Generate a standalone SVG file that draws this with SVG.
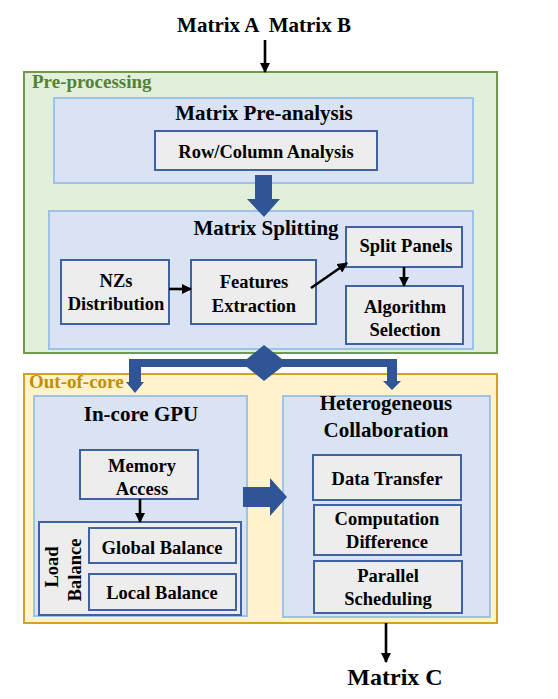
<svg xmlns="http://www.w3.org/2000/svg" width="558" height="699" viewBox="0 0 558 699">
<defs>
<style>
text{font-family:"Liberation Serif","Times New Roman",serif;font-weight:bold;fill:#000;text-anchor:middle}
.green{fill:#e2efda;stroke:#6f9b4c;stroke-width:2}
.yellow{fill:#fff2cc;stroke:#d4a31e;stroke-width:2}
.blue{fill:#dae3f3;stroke:#9dc3e6;stroke-width:2}
.grey{fill:#ededed;stroke:#3f63a2;stroke-width:2}
.t18{font-size:18.5px}
.t21{font-size:21px}
.lab{font-size:19px;text-anchor:start}
.conn{stroke:#000;stroke-width:2.6;fill:none}
.big{fill:#2f5597;stroke:none}
</style>
<marker id="ah" viewBox="0 0 10 10" refX="9" refY="5" markerWidth="4" markerHeight="4" markerUnits="strokeWidth" orient="auto">
<path d="M0,0 L10,5 L0,10 z" fill="#000"/>
</marker>
</defs>
<rect width="558" height="699" fill="#fff"/>

<text id="input" x="264" y="32" style="font-size:21px;white-space:pre" xml:space="preserve">Matrix A  Matrix B</text>

<g id="pre-processing">
<rect class="green" x="24" y="72" width="473" height="281"/>
<text class="lab" x="32" y="88" style="fill:#548235">Pre-processing</text>
</g>
<g id="matrix-pre-analysis">
<rect class="blue" x="54" y="98" width="419" height="85"/>
<text class="t21" x="264" y="120">Matrix Pre-analysis</text>
</g>
<g id="row-column-analysis">
<rect class="grey" x="155" y="131" width="222" height="39"/>
<text class="t18" x="266" y="158">Row/Column Analysis</text>
</g>
<g id="matrix-splitting">
<rect class="blue" x="49" y="211" width="424" height="138"/>
<text class="t21" x="266" y="235">Matrix Splitting</text>
</g>
<g id="nzs-distribution">
<rect class="grey" x="61" y="260" width="108" height="64"/>
<text class="t18" x="116" y="287">NZs</text>
<text class="t18" x="116" y="310">Distribution</text>
</g>
<g id="features-extraction">
<rect class="grey" x="191" y="260" width="125" height="64"/>
<text class="t18" x="254" y="288">Features</text>
<text class="t18" x="254" y="312">Extraction</text>
</g>
<g id="split-panels">
<rect class="grey" x="346" y="227" width="116" height="40"/>
<text class="t18" x="406" y="252">Split Panels</text>
</g>
<g id="algorithm-selection">
<rect class="grey" x="346" y="286" width="117" height="58"/>
<text class="t18" x="405" y="313">Algorithm</text>
<text class="t18" x="405" y="336">Selection</text>
</g>

<g id="out-of-core">
<rect class="yellow" x="24" y="374" width="473" height="249"/>
<text class="lab" x="29" y="388" style="fill:#bf9000">Out-of-core</text>
</g>
<g id="in-core-gpu">
<rect class="blue" x="34" y="396" width="213" height="220"/>
<text class="t21" x="141" y="421">In-core GPU</text>
</g>
<g id="memory-access">
<rect class="grey" x="80" y="450" width="118" height="49"/>
<text class="t18" x="142" y="472">Memory</text>
<text class="t18" x="142" y="495">Access</text>
</g>
<g id="load-balance">
<rect class="grey" x="39" y="522" width="202" height="93"/>
<text class="t18" transform="translate(58,567) rotate(-90)">Load</text>
<text class="t18" transform="translate(81,570) rotate(-90)">Balance</text>
</g>
<g id="global-balance">
<rect class="grey" x="89" y="528" width="147" height="35"/>
<text class="t18" x="162" y="554">Global Balance</text>
</g>
<g id="local-balance">
<rect class="grey" x="89" y="574" width="147" height="36"/>
<text class="t18" x="162" y="599">Local Balance</text>
</g>
<g id="heterogeneous-collaboration">
<rect class="blue" x="283" y="396" width="207" height="221"/>
<text class="t21" x="386" y="410">Heterogeneous</text>
<text class="t21" x="386" y="437">Collaboration</text>
</g>
<g id="data-transfer">
<rect class="grey" x="313" y="455" width="148" height="45"/>
<text class="t18" x="387" y="485">Data Transfer</text>
</g>
<g id="computation-difference">
<rect class="grey" x="314" y="505" width="147" height="50"/>
<text class="t18" x="387" y="525">Computation</text>
<text class="t18" x="387" y="548">Difference</text>
</g>
<g id="parallel-scheduling">
<rect class="grey" x="314" y="561" width="148" height="52"/>
<text class="t18" x="388" y="582">Parallel</text>
<text class="t18" x="388" y="605">Scheduling</text>
</g>

<text id="output" x="395" y="685" style="font-size:24px">Matrix C</text>

<g id="connectors">
<line class="conn" x1="265" y1="40" x2="265" y2="72" marker-end="url(#ah)"/>
<line class="conn" x1="169" y1="289" x2="191" y2="289" marker-end="url(#ah)"/>
<line class="conn" x1="311" y1="288" x2="347" y2="263" marker-end="url(#ah)"/>
<line class="conn" x1="404" y1="267" x2="404" y2="286" marker-end="url(#ah)"/>
<line class="conn" x1="140" y1="499" x2="140" y2="522" marker-end="url(#ah)"/>
<line class="conn" x1="386" y1="623" x2="386" y2="662" marker-end="url(#ah)"/>
<polygon class="big" points="255,175 272,175 272,199 280,199 264,217 247,199 255,199"/>
<polygon class="big" points="129,359 397,359 397,381 401,381 392,390 383,381 387,381 387,367 141,367 141,382 144,382 135,393 126,382 129,382"/>
<polygon class="big" points="242,363 264,345 287,363 264,381"/>
<polygon class="big" points="243,487 270,487 270,478 287,497 270,516 270,507 243,507"/>
</g>
</svg>
